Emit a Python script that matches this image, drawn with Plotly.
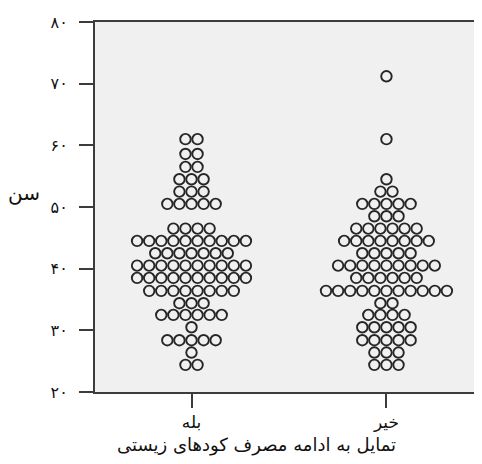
import plotly.graph_objects as go

# Category labels
categories = ["بله", "خیر"]

# Age bins (rows of the dot plot) and number of respondents per bin
yes_ages = [24.4, 26.4, 28.4, 30.5, 32.5, 34.4, 36.4, 38.5, 40.5, 42.5,
            44.5, 46.5, 50.5, 52.5, 54.5, 56.5, 58.6, 61.0]
yes_counts = [2, 1, 5, 1, 6, 3, 8, 10, 10, 7,
              10, 4, 5, 3, 3, 2, 2, 2]

no_ages = [24.4, 26.4, 28.4, 30.5, 32.5, 34.4, 36.4, 38.5, 40.5, 42.5,
           44.5, 46.5, 48.5, 50.5, 52.5, 54.5, 61.0, 71.2]
no_counts = [3, 3, 5, 5, 4, 2, 11, 6, 9, 5,
             8, 6, 3, 5, 2, 1, 1, 1]

y_tick_vals = [20, 30, 40, 50, 60, 70, 80]
y_tick_text = ["۲۰", "۳۰", "۴۰", "۵۰", "۶۰", "۷۰", "۸۰"]

y_title = "سن"
x_title = "تمایل به ادامه مصرف کودهای زیستی"

STEP = 0.062  # horizontal spacing between stacked dots (x units)


def swarm(center, ages, counts):
    xs, ys = [], []
    for a, n in zip(ages, counts):
        for i in range(n):
            xs.append(center + (i - (n - 1) / 2) * STEP)
            ys.append(a)
    return xs, ys


fig = go.Figure()
for pos, (ages, counts) in enumerate([(yes_ages, yes_counts), (no_ages, no_counts)], start=1):
    xs, ys = swarm(pos, ages, counts)
    fig.add_trace(go.Scatter(
        x=xs, y=ys, mode="markers",
        marker=dict(symbol="circle-open", size=10.5, color="#262626",
                    line=dict(width=1.9, color="#262626")),
        showlegend=False, hoverinfo="y",
    ))

font_family = "DejaVu Sans"

fig.update_layout(
    width=474, height=456,
    margin=dict(l=87, r=1, t=14, b=72),
    paper_bgcolor="white",
    plot_bgcolor="#f0f0f0",
    font=dict(family=font_family, color="#111111", size=13),
    xaxis=dict(
        range=[0.505, 2.485],
        tickvals=[1, 2], ticktext=categories,
        showgrid=False, zeroline=False,
        showline=True, linecolor="#3c3c3c", linewidth=2, mirror=True,
        ticks="outside", ticklen=14, tickwidth=2, tickcolor="#3c3c3c",
        tickfont=dict(size=17), ticklabelstandoff=0,
    ),
    yaxis=dict(
        range=[20, 80],
        tickvals=y_tick_vals, ticktext=y_tick_text,
        showgrid=False, zeroline=False,
        showline=True, linecolor="#3c3c3c", linewidth=2,
        ticks="outside", ticklen=14, tickwidth=2, tickcolor="#3c3c3c",
        tickfont=dict(size=16), ticklabelstandoff=8,
    ),
    annotations=[
        dict(text=y_title, xref="paper", yref="paper", x=-0.184, y=0.538,
             showarrow=False, font=dict(size=20), xanchor="center", yanchor="middle"),
        dict(text=x_title, xref="paper", yref="paper", x=0.418, y=-0.143,
             showarrow=False, font=dict(size=18), xanchor="center", yanchor="middle"),
    ],
)

fig.write_html("out.html")
